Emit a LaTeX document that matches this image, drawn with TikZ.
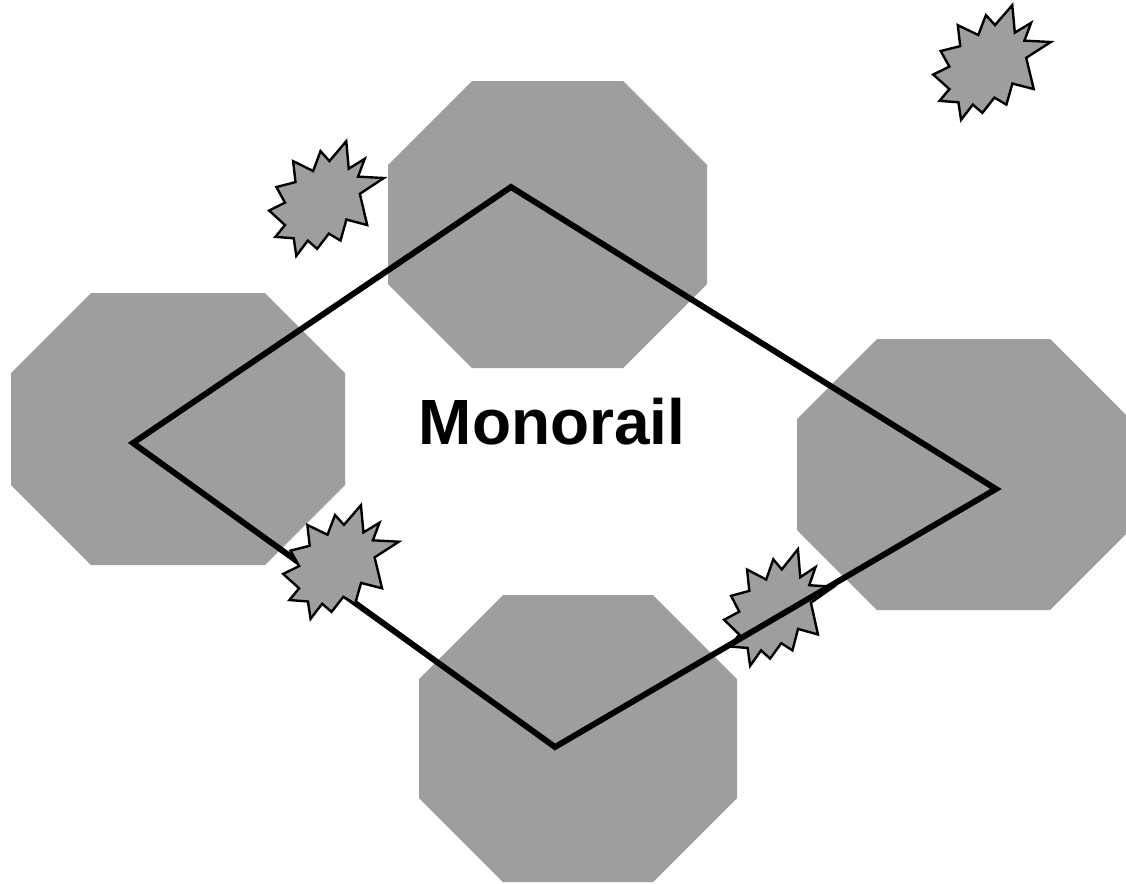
\documentclass[tikz,border=0pt]{standalone}
\usepackage{fontspec}
\setmainfont{Liberation Sans}
\definecolor{shadegray}{HTML}{9E9E9E}

\tikzset{
  octa/.style={fill=shadegray, draw=none},
  burst/.style={fill=shadegray, draw=black, line width=1.7pt, line join=miter},
  track/.style={draw=black, line width=4.2pt, line join=miter},
}

% octagon: x0 y0 x1 y1 cut
\newcommand{\octagon}[5]{%
  \path[octa] ({#1+#5},#2) -- ({#3-#5},#2) -- (#3,{#2+#5}) -- (#3,{#4-#5})
    -- ({#3-#5},#4) -- ({#1+#5},#4) -- (#1,{#4-#5}) -- (#1,{#2+#5}) -- cycle;}

% starburst: x0 y0 width height
\newcommand{\starburst}[4]{%
  \begin{scope}[shift={(#1,#2)}, xscale=#3/100, yscale=#4/100]
    \path[burst] (66.9,1) -- (69,24.5) -- (82.6,16.1) -- (77,31.3) -- (99,32.5)
      -- (78.5,46) -- (84.8,72.7) -- (67,68) -- (62,86) -- (52,80) -- (42,93)
      -- (34,86) -- (24.2,99) -- (22,84) -- (6.3,82.8) -- (14.5,72.7) -- (1,60.3)
      -- (14.5,53.5) -- (7.2,40.2) -- (23.5,36) -- (21.5,18.1) -- (38.6,26.5)
      -- (44.9,9.5) -- (52.5,18) -- cycle;
  \end{scope}}

\begin{document}
\begin{tikzpicture}[x=0.025cm, y=-0.025cm]
    \useasboundingbox (0,0) rectangle (1126,883);
    \clip (0,0) rectangle (1126,883);

    \octagon{388}{81}{707}{368}{84}
    \octagon{11}{293}{345}{565}{80}
    \octagon{797}{339}{1130}{610}{80}
    \octagon{419}{595}{737}{882}{84}

    \starburst{723}{548}{112}{119}

    \coordinate (west) at (133,443);
    \coordinate (north) at (511,187);
    \coordinate (east) at (996,489);
    \coordinate (south) at (555,747);
    \draw[track] (west) -- (north) -- (east) -- (south) -- cycle;

    \starburst{268}{140}{117}{117}
    \starburst{282}{504}{118}{116}
    \starburst{932}{4}{120}{117}

    \node[font=\bfseries\fontsize{45.5}{50}\selectfont, anchor=base, inner sep=0pt] (title) at (552,444) {Monorail};
\end{tikzpicture}
\end{document}
